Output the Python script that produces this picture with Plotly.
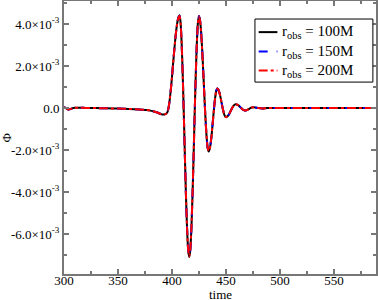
import plotly.graph_objects as go

# time samples
time = [300, 302, 304, 306, 308, 310, 315, 320, 330, 340, 350, 360, 370, 376, 380, 384, 387, 389, 391, 393,
        394, 395, 396, 397, 398, 399, 400, 401, 402, 403, 404, 405, 406, 407,
        408, 409, 410, 411, 412, 413, 414, 415, 416,
        417, 418, 419, 420, 421, 422, 423, 424, 425,
        426, 427, 428, 429, 430, 431, 432, 433, 434,
        435, 436, 437, 438, 439, 440, 441, 442,
        443, 444, 445, 446, 447, 448, 449, 450,
        451, 452, 453, 454, 455, 456, 457, 458, 459,
        460, 461, 462, 463, 464, 465, 466, 467, 468,
        470, 472, 474, 476, 480, 484, 488, 495, 510, 530, 550, 570, 590]

# Phi in units of 1e-3
phi_100 = [0.05, 0.0, -0.07, -0.05, 0.0, 0.02, 0.02, 0.01, 0.0, -0.01, -0.02, -0.04, -0.07, -0.09, -0.12, -0.17, -0.22, -0.27, -0.30, -0.30,
           -0.29, -0.25, -0.17, 0.06, 0.43, 0.91, 1.47, 2.08, 2.68, 3.24, 3.72, 4.09, 4.32, 4.42,
           4.07, 3.08, 1.55, -0.32, -2.32, -4.20, -5.74, -6.75, -7.09,
           -6.75, -5.74, -4.22, -2.36, -0.36, 1.51, 3.04, 4.05, 4.39,
           4.19, 3.63, 2.77, 1.72, 0.61, -0.44, -1.31, -1.88, -2.07,
           -1.95, -1.62, -1.14, -0.57, 0.01, 0.49, 0.82, 0.93,
           0.88, 0.73, 0.51, 0.25, -0.01, -0.23, -0.38, -0.43,
           -0.41, -0.36, -0.28, -0.18, -0.07, 0.03, 0.11, 0.16, 0.18,
           0.17, 0.15, 0.11, 0.06, 0.01, -0.04, -0.08, -0.10, -0.11,
           -0.08, -0.02, 0.03, 0.04, 0.0, -0.02, 0.0, 0.01, 0.0, 0.0, 0.0, 0.0, 0.0]
phi_150 = [0.05, 0.0, -0.07, -0.05, 0.0, 0.02, 0.02, 0.01, 0.0, -0.01, -0.02, -0.04, -0.07, -0.09, -0.12, -0.17, -0.22, -0.27, -0.30, -0.30,
           -0.29, -0.25, -0.17, 0.06, 0.43, 0.91, 1.47, 2.08, 2.68, 3.24, 3.72, 4.09, 4.32, 4.40,
           4.05, 3.06, 1.53, -0.34, -2.33, -4.20, -5.73, -6.73, -7.07,
           -6.73, -5.73, -4.21, -2.35, -0.35, 1.51, 3.03, 4.03, 4.37,
           4.18, 3.62, 2.76, 1.71, 0.60, -0.45, -1.31, -1.87, -2.06,
           -1.95, -1.62, -1.14, -0.57, 0.01, 0.49, 0.82, 0.93,
           0.88, 0.73, 0.51, 0.25, -0.01, -0.23, -0.38, -0.43,
           -0.41, -0.36, -0.28, -0.18, -0.07, 0.03, 0.11, 0.16, 0.18,
           0.17, 0.15, 0.11, 0.06, 0.01, -0.04, -0.08, -0.10, -0.11,
           -0.08, -0.02, 0.03, 0.04, 0.0, -0.02, 0.0, 0.01, 0.0, 0.0, 0.0, 0.0, 0.0]
phi_200 = [0.05, 0.0, -0.07, -0.05, 0.0, 0.02, 0.02, 0.01, 0.0, -0.01, -0.02, -0.04, -0.07, -0.09, -0.12, -0.17, -0.22, -0.27, -0.30, -0.30,
           -0.29, -0.25, -0.17, 0.06, 0.43, 0.91, 1.47, 2.08, 2.68, 3.24, 3.72, 4.09, 4.31, 4.39,
           4.04, 3.05, 1.52, -0.35, -2.33, -4.19, -5.72, -6.72, -7.06,
           -6.72, -5.72, -4.20, -2.34, -0.34, 1.51, 3.02, 4.02, 4.36,
           4.17, 3.61, 2.75, 1.70, 0.60, -0.45, -1.30, -1.86, -2.05,
           -1.94, -1.61, -1.13, -0.57, 0.01, 0.49, 0.82, 0.93,
           0.88, 0.73, 0.51, 0.25, -0.01, -0.23, -0.38, -0.43,
           -0.41, -0.36, -0.28, -0.18, -0.07, 0.03, 0.11, 0.16, 0.18,
           0.17, 0.15, 0.11, 0.06, 0.01, -0.04, -0.08, -0.10, -0.11,
           -0.08, -0.02, 0.03, 0.04, 0.0, -0.02, 0.0, 0.01, 0.0, 0.0, 0.0, 0.0, 0.0]

series_names = ["r<sub>obs</sub> = 100M", "r<sub>obs</sub> = 150M", "r<sub>obs</sub> = 200M"]
series_colors = ["black", "blue", "red"]
series_dash = ["solid", "dash", "dashdot"]

x_tickvals = [300, 350, 400, 450, 500, 550]
y_tickvals = [-6e-3, -4e-3, -2e-3, 0, 2e-3, 4e-3]
y_ticktext = ["-6.0×10<sup>-3</sup>", "-4.0×10<sup>-3</sup>", "-2.0×10<sup>-3</sup>", "0.0",
              "2.0×10<sup>-3</sup>", "4.0×10<sup>-3</sup>"]

FONT = "Liberation Serif, Times New Roman, serif"
AX = "#777777"

fig = go.Figure()
for name, vals, col, dash in zip(series_names, [phi_100, phi_150, phi_200], series_colors, series_dash):
    fig.add_trace(go.Scatter(
        x=time, y=[v * 1e-3 for v in vals], mode="lines", name=name, showlegend=False,
        line=dict(color=col, width=2, dash=dash, shape="spline", smoothing=0.6),
    ))

axis_common = dict(
    showline=True, linecolor=AX, linewidth=2, mirror="ticks",
    ticks="inside", ticklen=5, tickcolor=AX, tickwidth=1.5,
    showgrid=False, zeroline=False, automargin=False,
    tickfont=dict(family=FONT, size=13, color="black"),
)

fig.update_xaxes(
    range=[300, 589], tickvals=x_tickvals, ticklabelstandoff=-7,
    minor=dict(dtick=25, tick0=300, ticks="inside", ticklen=3, tickcolor=AX, tickwidth=1.5),
    **axis_common,
)
fig.update_yaxes(
    range=[-7.9e-3, 5.1e-3], tickvals=y_tickvals, ticktext=y_ticktext,
    minor=dict(dtick=1e-3, tick0=0, ticks="inside", ticklen=3, tickcolor=AX, tickwidth=1.5),
    **axis_common,
)

# axis titles
fig.add_annotation(text="time", xref="paper", yref="paper", x=0.5, y=-0.074, yanchor="middle",
                   showarrow=False, font=dict(family=FONT, size=13, color="black"))
fig.add_annotation(text="Φ", xref="paper", yref="paper", x=-0.183, y=0.5, xanchor="center",
                   showarrow=False, textangle=-90, font=dict(family=FONT, size=13, color="black"))

# legend box drawn by hand
fig.add_shape(type="rect", xref="paper", yref="paper", x0=0.612, x1=0.990, y0=0.703, y1=0.934,
              line=dict(color="black", width=1), fillcolor="white", layer="above")
leg_rows = [0.886, 0.815, 0.745]
for name, col, dash, yr in zip(series_names, series_colors, series_dash, leg_rows):
    fig.add_shape(type="line", xref="paper", yref="paper", x0=0.624, x1=0.684, y0=yr, y1=yr,
                  line=dict(color=col, width=2, dash=dash), layer="above")
    fig.add_annotation(text=name, xref="paper", yref="paper", x=0.692, y=yr, xanchor="left",
                       yanchor="middle", showarrow=False,
                       font=dict(family=FONT, size=15, color="black"))

fig.update_layout(
    width=378, height=300,
    margin=dict(l=64, r=2, t=1, b=26),
    plot_bgcolor="white", paper_bgcolor="white",
    showlegend=False,
)

fig.write_html("out.html", config={"displayModeBar": False},
               post_script="document.body.style.margin='0';document.body.style.overflow='hidden';")
